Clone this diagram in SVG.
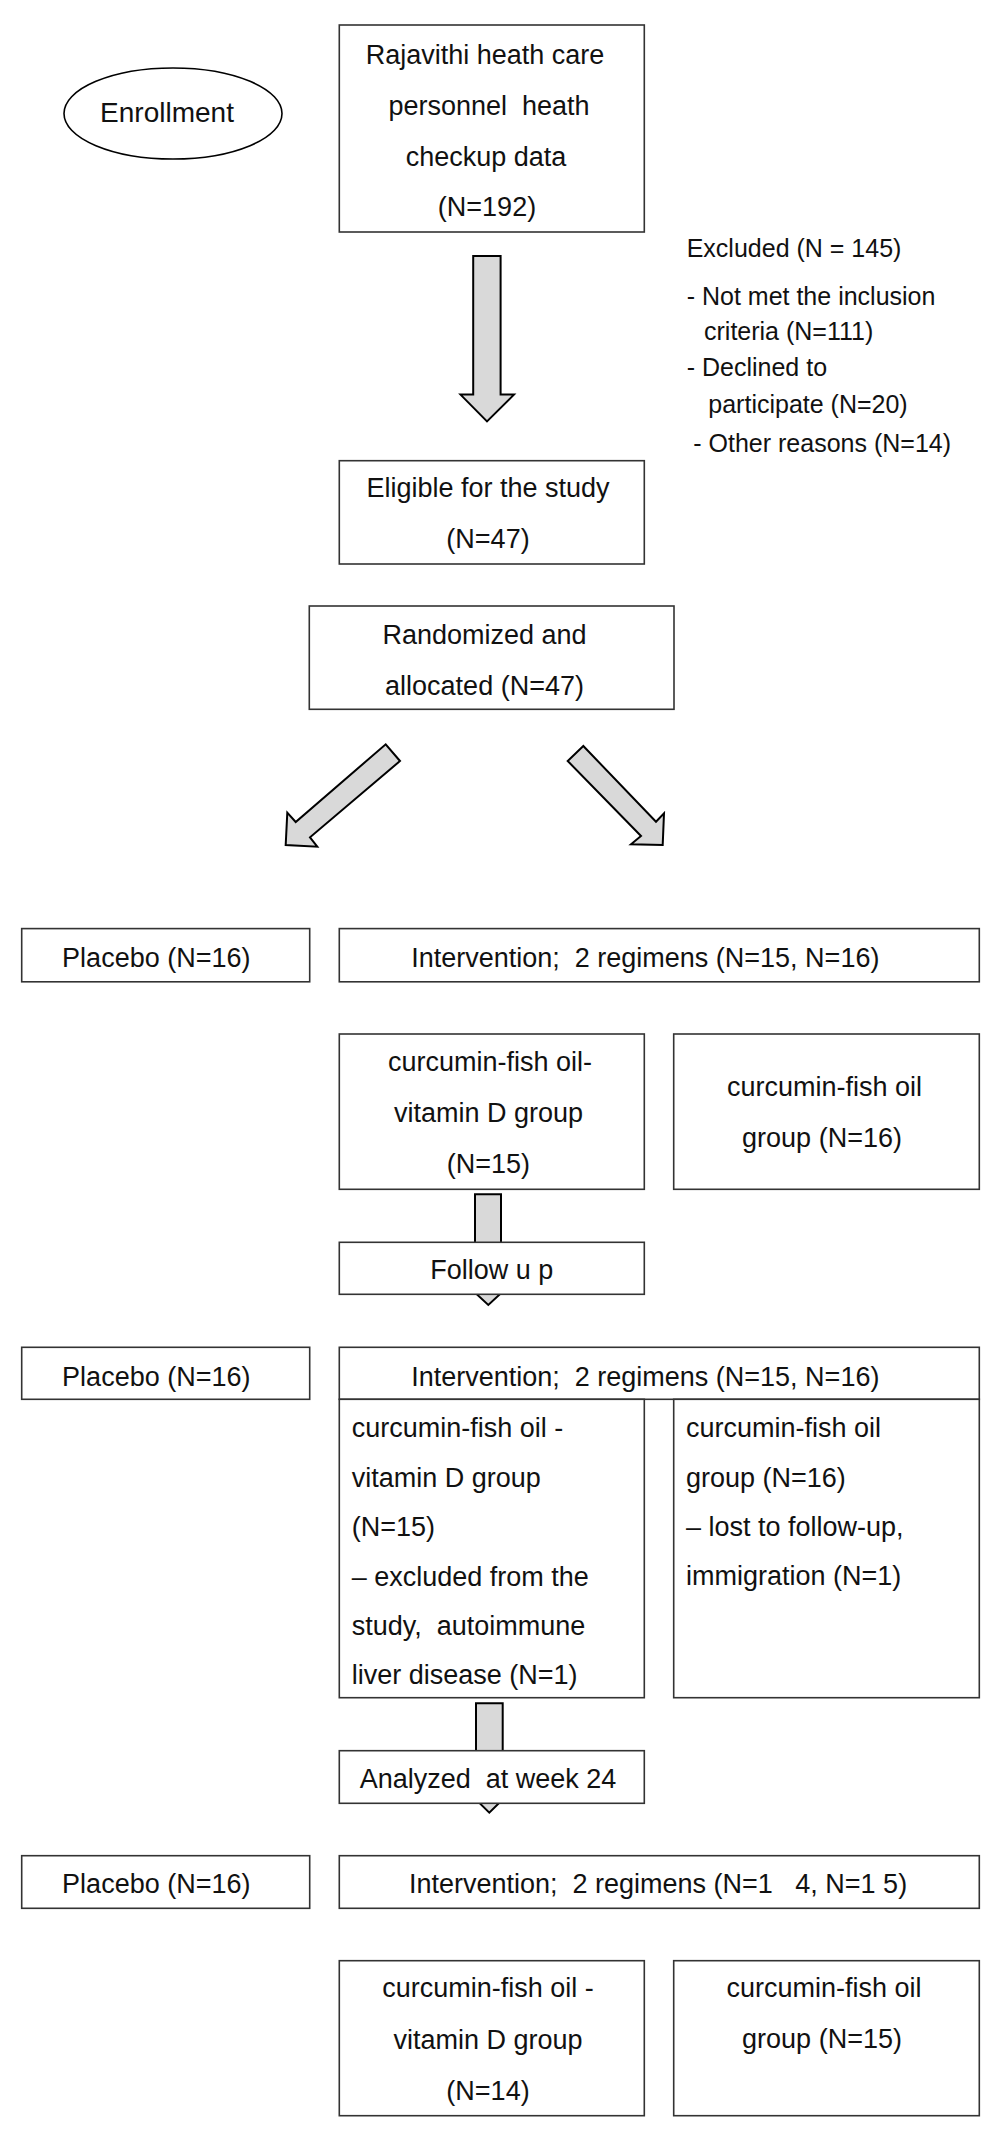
<svg xmlns="http://www.w3.org/2000/svg" width="1000" height="2129" viewBox="0 0 1000 2129">
<style>
.box{fill:#fff;stroke:#333;stroke-width:1.6}
.arr{fill:#d9d9d9;stroke:#000;stroke-width:2;stroke-linejoin:miter}
text{font-family:"Liberation Sans",Arial,sans-serif;font-size:27px;fill:#111}
.c{text-anchor:middle}
.ex{font-size:25px}
</style>
<rect width="1000" height="2129" fill="#fff"/>
<g id="connectors">
<polygon class="arr" points="473.2,256 500.6,256 500.6,394.6 514,394.6 487,421.4 460.5,394.6 473.2,394.6"/>
<polygon class="arr" points="385.7,744.3 400,761 310,837.3 317.3,846.7 285.7,845 287.3,812.7 295.7,822"/>
<polygon class="arr" points="583.3,746 567.7,761 641,836 631,844.3 662.7,845 664,813.3 656,821.7"/>
<polygon class="arr" points="475,1194.3 501,1194.3 501,1282 513,1282 488.3,1305 463.5,1282 475,1282"/>
<polygon class="arr" points="476,1703.3 502.7,1703.3 502.7,1789 513.3,1789 489.3,1812.7 465.3,1789 476,1789"/>
</g>
<g id="enrollment">
<ellipse cx="173" cy="113.5" rx="109" ry="45.5" fill="#fff" stroke="#000" stroke-width="1.6"/>
<text class="c" x="167" y="122" style="font-size:28px">Enrollment</text>
</g>
<g id="source">
<rect class="box" x="339.3" y="25" width="305" height="207"/>
<text class="c" x="485" y="64">Rajavithi heath care</text>
<text class="c" x="489" y="115" xml:space="preserve">personnel  heath</text>
<text class="c" x="486" y="166">checkup data</text>
<text class="c" x="487" y="216">(N=192)</text>
</g>
<g id="excluded">
<text class="ex" x="686.7" y="257">Excluded (N = 145)</text>
<text class="ex" x="686.7" y="304.5">- Not met the inclusion</text>
<text class="ex" x="704" y="340">criteria (N=111)</text>
<text class="ex" x="686.7" y="375.7">- Declined to</text>
<text class="ex" x="708.3" y="413">participate (N=20)</text>
<text class="ex" x="693.3" y="451.5">- Other reasons (N=14)</text>
</g>
<g id="eligible">
<rect class="box" x="339.3" y="460.7" width="305" height="103.3"/>
<text class="c" x="488" y="497">Eligible for the study</text>
<text class="c" x="488" y="548">(N=47)</text>
</g>
<g id="randomized">
<rect class="box" x="309.3" y="606" width="364.7" height="103.3"/>
<text class="c" x="484.5" y="644">Randomized and</text>
<text class="c" x="484.5" y="695">allocated (N=47)</text>
</g>
<g id="placebo1">
<rect class="box" x="21.7" y="928.6" width="288" height="53.2"/>
<text class="c" x="156.3" y="967">Placebo (N=16)</text>
</g>
<g id="intervention1">
<rect class="box" x="339.3" y="928.6" width="640" height="53.2"/>
<text class="c" x="645.3" y="967" xml:space="preserve">Intervention;  2 regimens (N=15, N=16)</text>
</g>
<g id="cfovd1">
<rect class="box" x="339.3" y="1034" width="305" height="155.3"/>
<text class="c" x="490" y="1071">curcumin-fish oil-</text>
<text class="c" x="488.5" y="1122">vitamin D group</text>
<text class="c" x="488.3" y="1173">(N=15)</text>
</g>
<g id="cfo1">
<rect class="box" x="673.7" y="1034" width="305.6" height="155.3"/>
<text class="c" x="824.6" y="1096">curcumin-fish oil</text>
<text class="c" x="822" y="1147">group (N=16)</text>
</g>
<g id="followup">
<rect class="box" x="339.3" y="1242.3" width="305" height="52"/>
<text class="c" x="491.7" y="1279.3">Follow u p</text>
</g>
<g id="placebo2">
<rect class="box" x="21.7" y="1347.3" width="288" height="52"/>
<text class="c" x="156.3" y="1385.7">Placebo (N=16)</text>
</g>
<g id="intervention2">
<rect class="box" x="339.3" y="1347.3" width="640" height="52"/>
<text class="c" x="645.3" y="1385.7" xml:space="preserve">Intervention;  2 regimens (N=15, N=16)</text>
</g>
<g id="cfovd2">
<rect class="box" x="339.3" y="1399.3" width="305" height="298.4"/>
<text x="351.7" y="1437">curcumin-fish oil -</text>
<text x="351.7" y="1486.5">vitamin D group</text>
<text x="351.7" y="1536">(N=15)</text>
<text x="351.7" y="1585.5">– excluded from the</text>
<text x="351.7" y="1635" xml:space="preserve">study,  autoimmune</text>
<text x="351.7" y="1684">liver disease (N=1)</text>
</g>
<g id="cfo2">
<rect class="box" x="673.7" y="1399.3" width="305.6" height="298.4"/>
<text x="686" y="1437">curcumin-fish oil</text>
<text x="686" y="1486.5">group (N=16)</text>
<text x="686" y="1536">– lost to follow-up,</text>
<text x="686" y="1585">immigration (N=1)</text>
</g>
<g id="analyzed">
<rect class="box" x="339.3" y="1750.7" width="305" height="52.6"/>
<text class="c" x="488" y="1788.3" xml:space="preserve">Analyzed  at week 24</text>
</g>
<g id="placebo3">
<rect class="box" x="21.7" y="1855.7" width="288" height="52.6"/>
<text class="c" x="156.3" y="1893.3">Placebo (N=16)</text>
</g>
<g id="intervention3">
<rect class="box" x="339.3" y="1855.7" width="640" height="52.6"/>
<text class="c" x="658" y="1893.3" xml:space="preserve">Intervention;  2 regimens (N=1   4, N=1 5)</text>
</g>
<g id="cfovd3">
<rect class="box" x="339.3" y="1960.7" width="305" height="155"/>
<text class="c" x="488" y="1996.7">curcumin-fish oil -</text>
<text class="c" x="488" y="2048.5">vitamin D group</text>
<text class="c" x="488" y="2099.5">(N=14)</text>
</g>
<g id="cfo3">
<rect class="box" x="673.7" y="1960.7" width="305.6" height="155"/>
<text class="c" x="824" y="1996.7">curcumin-fish oil</text>
<text class="c" x="822" y="2048.3">group (N=15)</text>
</g>
</svg>
